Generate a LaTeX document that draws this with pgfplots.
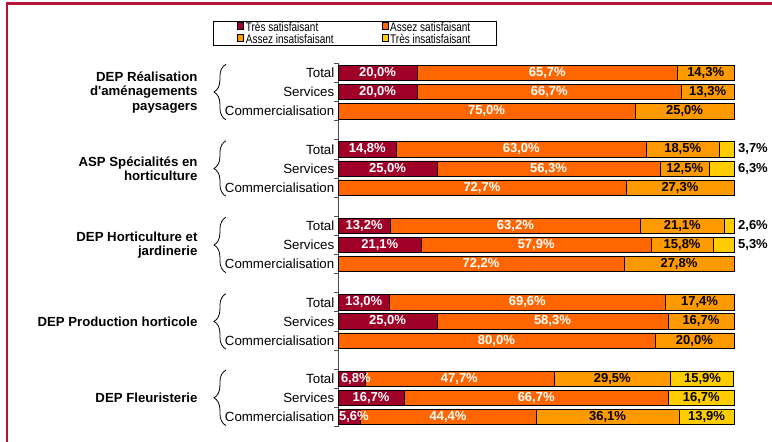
\documentclass[border=0pt]{standalone}
\usepackage{fontspec}
\setmainfont{Liberation Sans}[Ligatures=TeXOff]
\newfontfamily\narrowsans{Liberation Sans}[FakeStretch=0.8]
\usepackage{pgfplots}
\usepackage{pgfplotstable}
\pgfplotsset{compat=1.18}
\usetikzlibrary{decorations.pathreplacing}

\definecolor{cRed}{RGB}{160,0,40}
\definecolor{cOrange}{RGB}{255,102,0}
\definecolor{cLight}{RGB}{255,153,0}
\definecolor{cYellow}{RGB}{255,204,0}
\definecolor{cFrame}{RGB}{180,20,55}

\pgfplotstableread{
y  a    b    c    d
0  20.0 65.7 14.3 0
1  20.0 66.7 13.3 0
2  0    75.0 25.0 0
4  14.8 63.0 18.5 3.7
5  25.0 56.3 12.5 6.3
6  0    72.7 27.3 0
8  13.2 63.2 21.1 2.6
9  21.1 57.9 15.8 5.3
10 0    72.2 27.8 0
12 13.0 69.6 17.4 0
13 25.0 58.3 16.7 0
14 0    80.0 20.0 0
16 6.8  47.7 29.5 15.9
17 16.7 66.7 0    16.7
18 5.6  44.4 36.1 13.9
}\data

\pgfplotstableread{
x     y  v
10    0  20.0
52.85 0  65.7
10    1  20.0
53.35 1  66.7
37.5  2  75.0
7.4   4  14.8
46.3  4  63.0
12.5  5  25.0
53.15 5  56.3
36.35 6  72.7
6.6   8  13.2
44.8  8  63.2
10.55 9  21.1
50.05 9  57.9
36.1  10 72.2
6.5   12 13.0
47.8  12 69.6
12.5  13 25.0
54.15 13 58.3
40    14 80.0
4.5   16 6.8
30.65 16 47.7
8.35  17 16.7
50.05 17 66.7
4.0   18 5.6
27.8  18 44.4
}\whitelab

\pgfplotstableread{
x     y  v
92.85 0  14.3
93.35 1  13.3
87.5  2  25.0
87.05 4  18.5
87.55 5  12.5
86.35 6  27.3
86.95 8  21.1
86.9  9  15.8
86.1  10 27.8
91.3  12 17.4
91.65 13 16.7
90    14 20.0
69.25 16 29.5
92.05 16 15.9
91.75 17 16.7
68.05 18 36.1
93.05 18 13.9
}\blacklab

\pgfplotstableread{
x     y  v
101   4  3.7
101   5  6.3
101   8  2.6
101   9  5.3
}\outlab

\begin{document}
\begin{tikzpicture}
\useasboundingbox (0,0) rectangle (772pt,442pt);
\draw[cFrame, line width=2.2pt] (7pt,0) -- (7pt,438.5pt) -- (772pt,438.5pt);

\pgfplotsset{common/.style={at={(338pt,15.5pt)}, anchor=south west,
  scale only axis, width=396pt, height=363.1pt,
  xmin=0, xmax=100, ymin=-0.5, ymax=18.5, y dir=reverse, clip=false}}

\begin{axis}[common,
  xbar stacked, bar width=0.8,
  axis x line=none, axis y line*=left,
  y axis line style={-, black!70, line width=0.8pt},
  ytick={0,1,2,4,5,6,8,9,10,12,13,14,16,17,18},
  yticklabels={Total,Services,Commercialisation,Total,Services,Commercialisation,Total,Services,Commercialisation,Total,Services,Commercialisation,Total,Services,Commercialisation},
  major tick length=0pt,
  minor ytick={-0.5,0.5,...,18.5},
  minor tick length=4pt,
  ytick align=outside,
  minor tick style={black!70, line width=0.8pt},
  yticklabel style={font=\fontsize{13.3}{13.3}\selectfont, inner sep=1pt, xshift=-2.5pt},
  legend columns=2,
  legend style={at={(-0.3157,1.1168)}, anchor=north west, draw=black, line width=0.8pt,
    font=\narrowsans\fontsize{12.5}{12.5}\selectfont, inner xsep=24pt, inner ysep=0.8pt,
    row sep=0.6pt,
    nodes={inner ysep=0pt, inner xsep=2pt, text height=7.6pt, text depth=1.6pt},
    /tikz/every even column/.append style={column sep=46pt}},
  legend cell align=left,
  legend image code/.code={\draw[#1, draw=black, line width=0.5pt] (0pt,-0.3pt) rectangle (6pt,6.3pt);},
]
\addplot[fill=cRed, draw=black, line width=0.6pt] table[x=a, y=y]{\data};
\addplot[fill=cOrange, draw=black, line width=0.6pt] table[x=b, y=y]{\data};
\addplot[fill=cLight, draw=black, line width=0.6pt] table[x=c, y=y]{\data};
\addplot[fill=cYellow, draw=black, line width=0.6pt] table[x=d, y=y]{\data};
\legend{Très satisfaisant, Assez satisfaisant, Assez insatisfaisant, Très insatisfaisant}
\end{axis}

\begin{axis}[common, axis lines=none,
  point meta=explicit,
  nodes near coords={\pgfmathprintnumber[assume math mode=true,fixed,fixed zerofill,precision=1,use comma]{\pgfplotspointmeta}\%},
  every node near coord/.append style={anchor=center, inner sep=0pt, font=\bfseries\fontsize{13}{13}\selectfont},
]
\addplot[only marks, mark=none, nodes near coords style={text=white}] table[x=x, y=y, meta=v]{\whitelab};
\addplot[only marks, mark=none, nodes near coords style={text=black}] table[x=x, y=y, meta=v]{\blacklab};
\addplot[only marks, mark=none, nodes near coords style={text=black, anchor=west}] table[x=x, y=y, meta=v]{\outlab};

\foreach \t/\b in {-0.45/2.45, 3.55/6.45, 7.55/10.45, 11.55/14.45, 15.55/18.45}{
  \edef\tmp{\noexpand\draw[decorate, decoration={brace, amplitude=12pt}, line width=0.8pt]
    (axis cs:-28.3,\b) -- (axis cs:-28.3,\t);}\tmp
}
\begin{scope}[every node/.style={anchor=east, align=right, font=\bfseries\fontsize{13.2}{14.5}\selectfont}]
\node at (axis cs:-34.6,1) {DEP Réalisation\\d'aménagements\\paysagers};
\node at (axis cs:-34.6,5) {ASP Spécialités en\\horticulture};
\node at (axis cs:-34.6,9) {DEP Horticulture et\\jardinerie};
\node at (axis cs:-34.6,13) {DEP Production horticole};
\node at (axis cs:-34.6,17) {DEP Fleuristerie};
\end{scope}
\end{axis}
\end{tikzpicture}
\end{document}
